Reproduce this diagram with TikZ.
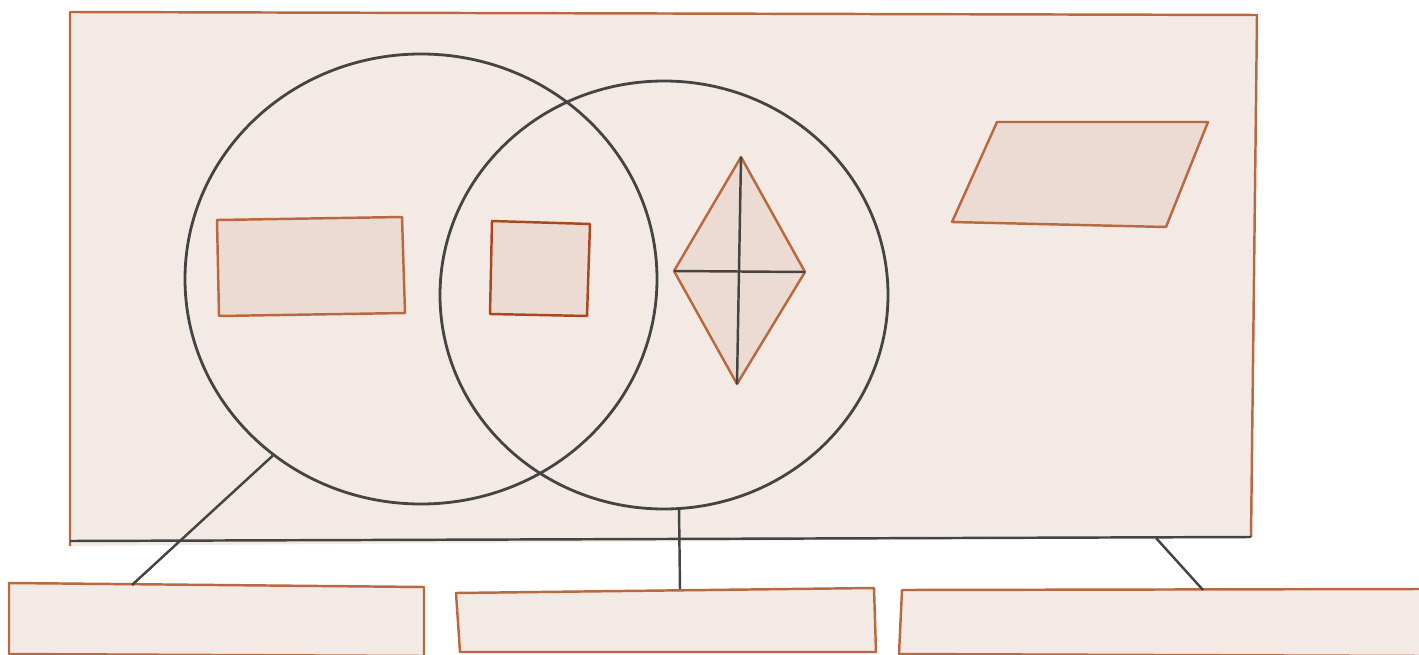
\documentclass[tikz,border=0pt]{standalone}
\usepackage{tikz}
\usetikzlibrary{shapes.geometric}
\definecolor{paper}{HTML}{F3EAE6}
\definecolor{shade}{HTML}{ECDBD2}
\definecolor{rust}{HTML}{B9683F}
\definecolor{darkrust}{HTML}{A9471E}
\definecolor{ink}{HTML}{454444}
\tikzset{
  frame/.style={draw=rust,fill=paper,line width=1.4pt,line join=round},
  figure/.style={draw=rust,fill=shade,line width=1.4pt,line join=round},
  setline/.style={ellipse,draw=ink,line width=1.6pt,inner sep=0pt},
  link/.style={draw=ink,line width=1.4pt}
}
\begin{document}
\begin{tikzpicture}[x=0.02cm,y=-0.02cm]
			\useasboundingbox (0,0) rectangle (1419,655);
			% universe
			\fill[paper] (70,12) -- (1257,15) -- (1251,537) -- (70,546) -- cycle;
			\draw[rust,line width=1.4pt,line join=round] (70,546) -- (70,12) -- (1257,15) -- (1251,537);
			\coordinate (baseL) at (70,541);
			\coordinate (baseR) at (1251,537);
			\draw[link] (baseL) -- (baseR);
			% the two sets
			\node[setline,minimum width=472*0.02cm,minimum height=450*0.02cm] (leftset) at (421,279) {};
			\node[setline,minimum width=448*0.02cm,minimum height=428*0.02cm] (rightset) at (664,295) {};
			% figures
			\draw[figure] (217,220) -- (402,217) -- (405,313) -- (219,316) -- cycle;
			\draw[figure,draw=darkrust] (492,221) -- (590,224) -- (587,316) -- (490,314) -- cycle;
			\coordinate (rtop) at (741,157);
			\coordinate (rleft) at (674,271);
			\coordinate (rright) at (805,272);
			\coordinate (rbot) at (737,384);
			\draw[figure] (rtop) -- (rright) -- (rbot) -- (rleft) -- cycle;
			\draw[link] (rtop) -- (rbot);
			\draw[link] (rleft) -- (rright);
			\draw[figure] (997,122) -- (1208,122) -- (1166,227) -- (952,222) -- cycle;
			% label boxes
			\draw[frame] (9,583) -- (424,587) -- (424,656) -- (9,654) -- cycle;
			\draw[frame] (456,593) -- (874,588) -- (876,652) -- (460,652) -- cycle;
			\draw[frame] (902,590) -- (1421,589) -- (1421,656) -- (899,654) -- cycle;
			\coordinate (boxA) at (132,585);
			\coordinate (boxB) at (680,589);
			\coordinate (boxC) at (1203,590);
			\coordinate (baseC) at (1156,538);
			% connectors
			\draw[link] (leftset.230) -- (boxA);
			\draw[link] (rightset.274) -- (boxB);
			\draw[link] (baseC) -- (boxC);
		\end{tikzpicture}
\end{document}
